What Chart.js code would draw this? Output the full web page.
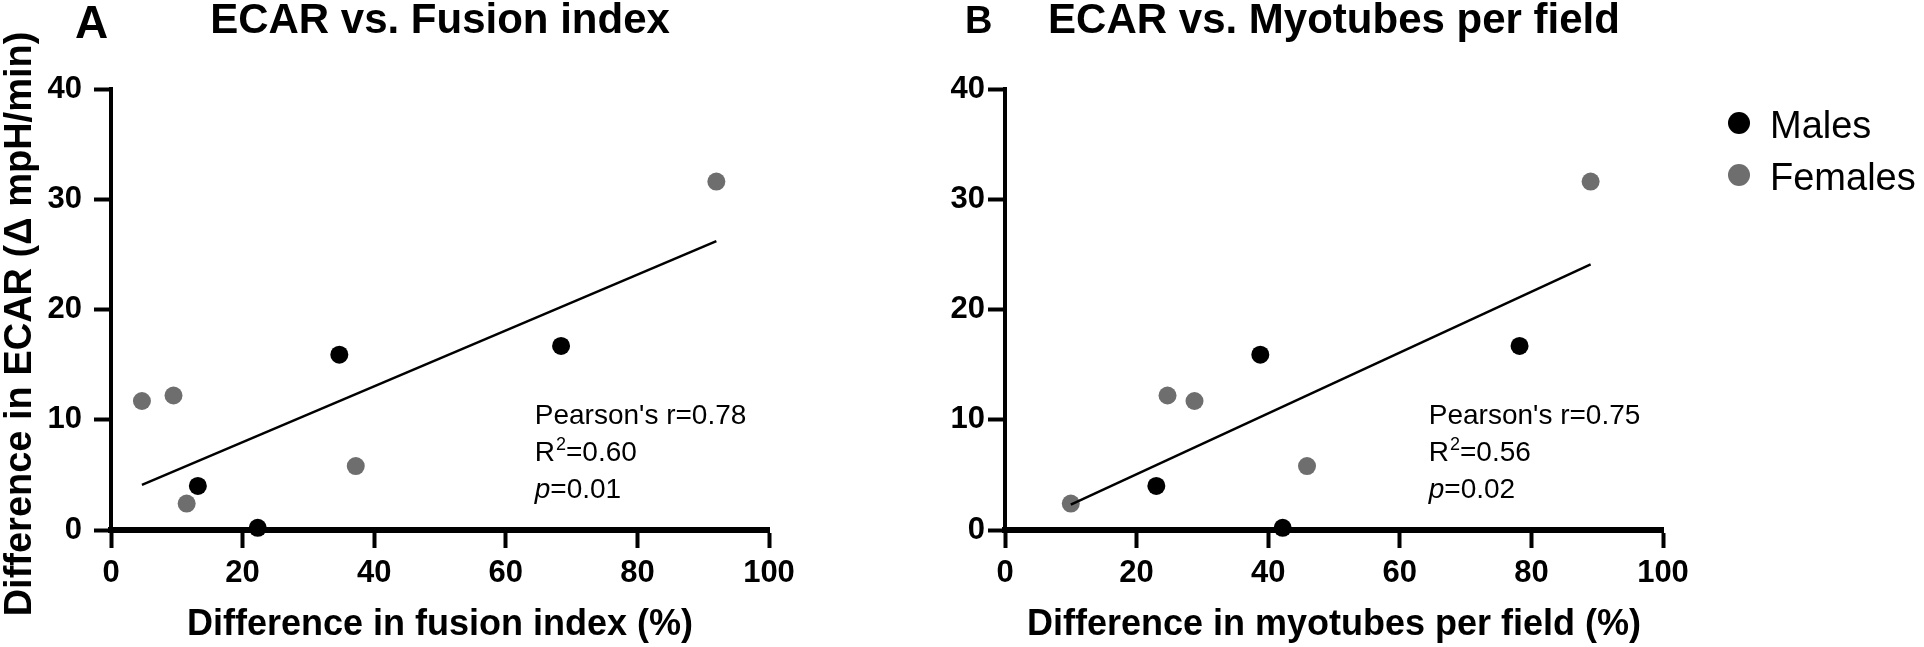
<!DOCTYPE html>
<html>
<head>
<meta charset="utf-8">
<script src="https://cdn.jsdelivr.net/npm/chart.js@4.4.1/dist/chart.umd.min.js"></script>
<style>
    html, body { margin: 0; padding: 0; background: #fff; }
    canvas { position: absolute; top: 0; }
    #graficoA { left: 0; }
    #graficoB { left: 930px; }
</style>
</head>
<body>
<canvas id="graficoA" width="930" height="647"></canvas>
<canvas id="graficoB" width="994" height="647"></canvas>
<script>

// dados (mesmos animais nos dois painéis)

const seriesNames = ["Males", "Females"];
const seriesColors = ["#000000", "#6e6e6e"];

const ecarMales = [4.0, 0.2, 15.9, 16.7];
const fusionMales = [13.2, 22.3, 34.7, 68.4];
const myotubesMales = [23.0, 42.2, 38.8, 78.2];

const ecarFemales = [11.7, 12.2, 2.4, 5.8, 31.6];
const fusionFemales = [4.7, 9.5, 11.5, 37.2, 92.0];
const myotubesFemales = [28.8, 24.7, 10.0, 45.9, 89.0];

// linhas de regressão (extremos)
const fitFusionX = [4.7, 92.0];
const fitFusionY = [4.1, 26.2];
const fitMyotubesX = [10.0, 89.0];
const fitMyotubesY = [2.3, 24.1];

const xTicks = [0, 20, 40, 60, 80, 100];
const yTicks = [0, 10, 20, 30, 40];

const statsFusion = ["0.78", "0.60", "0.01"];
const statsMyotubes = ["0.75", "0.56", "0.02"];

const FONTE = '"Liberation Sans", Arial, Helvetica, sans-serif';

function pontos(xs, ys) {
    return xs.map((x, i) => ({ x, y: ys[i] }));
}

const textosPlugin = {

    id: "textos",

    afterDraw(chart, args, opts) {

        const ctx = chart.ctx;
        const area = chart.chartArea;

        ctx.save();
        ctx.fillStyle = "#000";
        ctx.textBaseline = "alphabetic";

        // letra do painel
        ctx.textAlign = "left";
        ctx.font = `bold ${opts.letraSize}px ${FONTE}`;
        ctx.fillText(opts.letra, opts.letraX, opts.letraY);

        // título
        ctx.textAlign = "center";
        ctx.font = `bold 42px ${FONTE}`;
        ctx.fillText(opts.titulo, (area.left + area.right) / 2, 33);

        // título do eixo y (um pouco abaixo do centro, como no original)
        if (opts.yLabel) {

            ctx.save();
            ctx.translate(31, 324);
            ctx.rotate(-Math.PI / 2);
            ctx.font = `bold 38px ${FONTE}`;
            ctx.fillText(opts.yLabel, 0, 0);
            ctx.restore();
        }

        // estatísticas
        const sx = chart.scales.x.getPixelForValue(64.4);
        const sy = chart.scales.y.getPixelForValue(9.6);
        const passo = 37;

        ctx.textAlign = "left";
        ctx.font = `28px ${FONTE}`;
        ctx.fillText("Pearson's r=" + opts.stats[0], sx, sy);

        ctx.fillText("R", sx, sy + passo);
        let w = ctx.measureText("R").width;
        ctx.font = `18px ${FONTE}`;
        ctx.fillText("2", sx + w + 1, sy + passo - 11);
        w += ctx.measureText("2").width + 1;
        ctx.font = `28px ${FONTE}`;
        ctx.fillText("=" + opts.stats[1], sx + w, sy + passo);

        ctx.font = `italic 28px ${FONTE}`;
        ctx.fillText("p", sx, sy + 2 * passo);
        w = ctx.measureText("p").width;
        ctx.font = `28px ${FONTE}`;
        ctx.fillText("=" + opts.stats[2], sx + w, sy + 2 * passo);

        // legenda
        if (opts.legenda) {

            ctx.font = `38px ${FONTE}`;

            seriesNames.forEach((nome, i) => {

                const cy = 123 + i * 52;

                ctx.fillStyle = seriesColors[i];
                ctx.beginPath();
                ctx.arc(809, cy, 11, 0, Math.PI * 2);
                ctx.fill();

                ctx.fillStyle = "#000";
                ctx.fillText(nome, 840, cy + 15);
            });
        }

        ctx.restore();
    }
};

function criarPainel(canvasId, cfg) {

    const canvas = document.getElementById(canvasId);

    return new Chart(canvas, {

        type: "scatter",

        data: {
            datasets: [
                {
                    label: seriesNames[0],
                    data: pontos(cfg.xMales, ecarMales),
                    backgroundColor: seriesColors[0],
                    borderWidth: 0,
                    pointRadius: 9,
                    clip: false,
                    order: 1
                },
                {
                    label: seriesNames[1],
                    data: pontos(cfg.xFemales, ecarFemales),
                    backgroundColor: seriesColors[1],
                    borderWidth: 0,
                    pointRadius: 9,
                    clip: false,
                    order: 2
                },
                {
                    label: "fit",
                    data: pontos(cfg.fitX, cfg.fitY),
                    showLine: true,
                    borderColor: "#000",
                    borderWidth: 2.5,
                    pointRadius: 0,
                    clip: false,
                    order: 0
                }
            ]
        },

        options: {
            responsive: false,
            animation: false,
            devicePixelRatio: 1,

            layout: {
                padding: { top: 89, right: cfg.padRight, bottom: 0, left: 0 }
            },

            plugins: {
                legend: { display: false },
                tooltip: { enabled: false },
                textos: {
                    letra: cfg.letra,
                    letraSize: cfg.letraSize,
                    letraX: cfg.letraX,
                    letraY: cfg.letraY,
                    titulo: cfg.titulo,
                    yLabel: cfg.yLabel,
                    stats: cfg.stats,
                    legenda: cfg.legenda
                }
            },

            scales: {
                x: {
                    type: "linear",
                    min: xTicks[0],
                    max: xTicks[xTicks.length - 1],
                    afterBuildTicks: s => { s.ticks = xTicks.map(v => ({ value: v })); },
                    afterFit: s => { s.height = 117; },
                    ticks: {
                        autoSkip: false,
                        maxRotation: 0,
                        color: "#000",
                        padding: 7,
                        font: { family: FONTE, size: 31, weight: "bold" }
                    },
                    grid: {
                        drawOnChartArea: false,
                        drawTicks: true,
                        tickLength: 18,
                        tickWidth: 4,
                        tickColor: "#000"
                    },
                    border: { display: true, color: "#000", width: 6 },
                    title: {
                        display: true,
                        text: cfg.xLabel,
                        color: "#000",
                        padding: 0,
                        font: { family: FONTE, size: 36, weight: "bold" }
                    }
                },
                y: {
                    type: "linear",
                    min: yTicks[0],
                    max: yTicks[yTicks.length - 1],
                    afterBuildTicks: s => { s.ticks = yTicks.map(v => ({ value: v })); },
                    afterFit: s => { s.width = cfg.yWidth; },
                    ticks: {
                        autoSkip: false,
                        color: "#000",
                        padding: cfg.yTickPad,
                        font: { family: FONTE, size: 31, weight: "bold" }
                    },
                    grid: {
                        drawOnChartArea: false,
                        drawTicks: true,
                        tickLength: 17,
                        tickWidth: 4,
                        tickColor: "#000"
                    },
                    border: { display: true, color: "#000", width: 4 },
                    title: { display: false }
                }
            }
        },

        plugins: [textosPlugin]
    });
}

criarPainel("graficoA", {
    letra: "A",
    letraSize: 46,
    letraX: 75,
    letraY: 38,
    titulo: "ECAR vs. Fusion index",
    xLabel: "Difference in fusion index (%)",
    yLabel: "Difference in ECAR (\u0394 mpH/min)",
    xMales: fusionMales,
    xFemales: fusionFemales,
    fitX: fitFusionX,
    fitY: fitFusionY,
    stats: statsFusion,
    yWidth: 111,
    yTickPad: 12,
    padRight: 930 - 769,
    legenda: false
});

criarPainel("graficoB", {
    letra: "B",
    letraSize: 38,
    letraX: 35,
    letraY: 33,
    titulo: "ECAR vs. Myotubes per field",
    xLabel: "Difference in myotubes per field (%)",
    yLabel: null,
    xMales: myotubesMales,
    xFemales: myotubesFemales,
    fitX: fitMyotubesX,
    fitY: fitMyotubesY,
    stats: statsMyotubes,
    yWidth: 75,
    yTickPad: 3,
    padRight: 994 - 733,
    legenda: true
});

</script>
</body>
</html>
